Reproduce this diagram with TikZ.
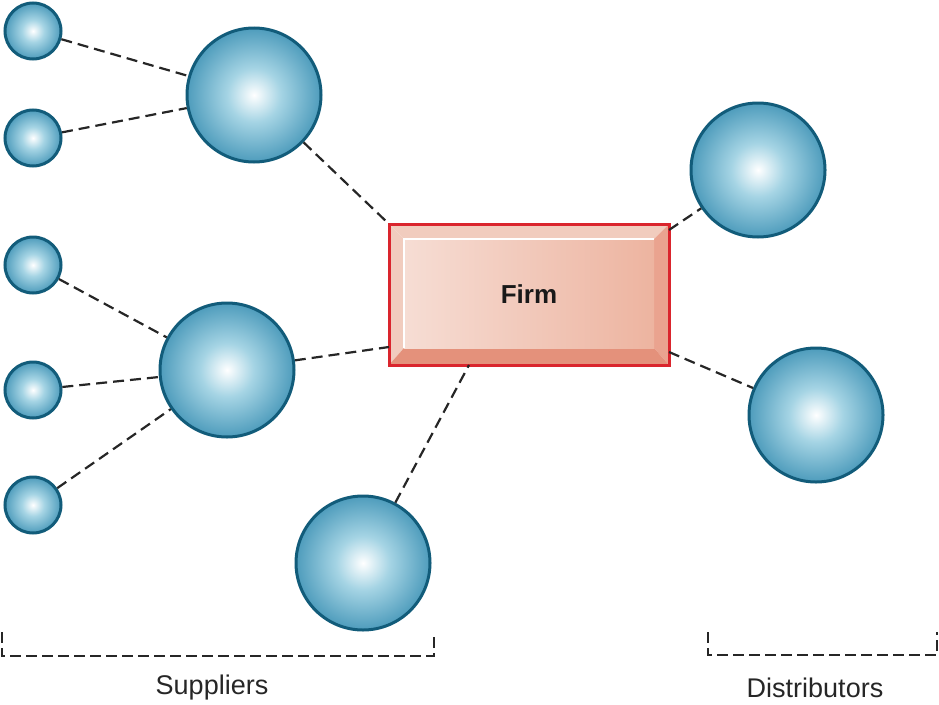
\documentclass[tikz,border=0pt]{standalone}
\usepackage{fontspec}
\setmainfont{Liberation Sans}
\usetikzlibrary{calc,backgrounds}

\definecolor{ballmid}{RGB}{165,212,228}
\definecolor{ballout}{RGB}{78,156,188}
\definecolor{balledge}{RGB}{18,92,122}
\definecolor{firmred}{RGB}{218,37,45}
\definecolor{firmleft}{RGB}{246,221,212}
\definecolor{firmright}{RGB}{237,180,160}
\definecolor{beveltop}{RGB}{241,204,190}
\definecolor{bevelside}{RGB}{234,163,143}
\definecolor{bevelbot}{RGB}{228,145,123}
\pgfdeclareradialshading{ball}{\pgfpoint{0bp}{0bp}}{color(0bp)=(white); color(10bp)=(ballmid); color(25bp)=(ballout); color(50bp)=(ballout)}

\begin{document}
\begin{tikzpicture}[x=1pt,y=-1pt,
    small/.style={circle, draw=balledge, line width=3pt, shading=ball, minimum size=56pt, inner sep=0pt},
    big/.style={circle, draw=balledge, line width=3pt, shading=ball, minimum size=134pt, inner sep=0pt},
    firm/.style={rectangle, draw=firmred, line width=3pt, outer sep=0pt, text=black!90,
      minimum width=280pt, minimum height=141pt, font=\fontsize{26}{30}\selectfont\bfseries},
    link/.style={dash pattern=on 11pt off 6pt, line width=2.2pt, black!85},
    bracket/.style={dash pattern=on 11pt off 5pt, line width=2pt, black!85},
    label/.style={font=\fontsize{27}{32}\selectfont, text=black!85}]

  \useasboundingbox (0,0) rectangle (939,704);

  % suppliers
  \node[small] (s1) at (33,31) {};
  \node[small] (s2) at (33,138) {};
  \node[small] (s3) at (33,265) {};
  \node[small] (s4) at (33,390) {};
  \node[small] (s5) at (33,505) {};
  \node[big] (supA) at (254,95) {};
  \node[big] (supB) at (227,370) {};
  \node[big] (supC) at (363,563) {};

  % distributors
  \node[big] (distA) at (758,170) {};
  \node[big] (distB) at (816,415) {};

  % the firm
  \node[firm] (firm) at (529,294.5) {Firm};
  \begin{scope}[on background layer]
    \coordinate (inw) at ($(firm.north west)+(15,15)$);
    \coordinate (ine) at ($(firm.north east)+(-15,15)$);
    \coordinate (isw) at ($(firm.south west)+(15,-17)$);
    \coordinate (ise) at ($(firm.south east)+(-15,-17)$);
    \fill[beveltop] (firm.north west) -- (firm.north east) -- (ine) -- (inw) -- cycle;
    \fill[beveltop] (firm.north west) -- (inw) -- (isw) -- (firm.south west) -- cycle;
    \fill[bevelside] (firm.north east) -- (ine) -- (ise) -- (firm.south east) -- cycle;
    \fill[bevelbot] (firm.south west) -- (isw) -- (ise) -- (firm.south east) -- cycle;
    \shade[left color=firmleft, right color=firmright] (inw) rectangle (ise);
    \draw[white, line width=1.5pt] (isw) -- (inw) -- (ine);
  \end{scope}

  % links
  \draw[link] (s1) -- (supA);
  \draw[link] (s2) -- (supA);
  \draw[link] (s3) -- (supB);
  \draw[link] (s4) -- (supB);
  \draw[link] (s5) -- (supB);
  \draw[link] (supA) -- (firm.north west);
  \draw[link] (supB) -- ([yshift=18pt]firm.south west);
  \draw[link] (supC) -- ([xshift=80pt]firm.south west);
  \draw[link] ([yshift=-6pt]firm.north east) -- (distA);
  \draw[link] ([yshift=13pt]firm.south east) -- (distB);

  % groups
  \draw[bracket] (2,632) -- (2,656) -- (434,656) -- (434,633);
  \draw[bracket] (708,632) -- (708,655) -- (937,655) -- (937,632);
  \node[label] (suppliers) at (212,688) {Suppliers};
  \node[label] (distributors) at (815,688) {Distributors};
\end{tikzpicture}
\end{document}
